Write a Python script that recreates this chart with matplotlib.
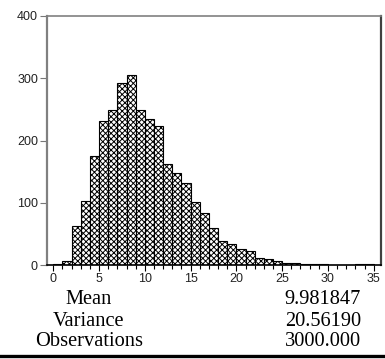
import numpy as np
import matplotlib.pyplot as plt

# histogram counts, bins of width 1 starting at 0
bin_left = np.arange(0, 35)
counts = [1, 6, 63, 103, 175, 231, 249, 293, 306, 249,
          234, 224, 163, 147, 131, 102, 83, 60, 38, 33,
          25, 22, 11, 9, 7, 3, 4, 1, 1, 1,
          0, 0, 0, 1, 1]
x_ticks = [0, 5, 10, 15, 20, 25, 30, 35]
y_ticks = [0, 100, 200, 300, 400]

stat_names = ['Mean', 'Variance', 'Observations']
stat_values = ['9.981847', '20.56190', '3000.000']

plt.rcParams['hatch.linewidth'] = 0.7

fig = plt.figure(figsize=(3.85, 3.59), dpi=100)
ax = fig.add_axes([47/385, 94/359, 334/385, 249/359])

ax.bar(bin_left, counts, width=1, align='edge', color='white',
       edgecolor='black', linewidth=0.8, hatch='xxxxxx')

ax.set_xlim(-0.69, 35.8)
ax.set_ylim(0, 400)
ax.set_xticks(x_ticks)
ax.set_xticks(np.arange(0, 36), minor=True)
ax.set_yticks(y_ticks)
ax.tick_params(axis='both', labelsize=9, colors='black', labelcolor='#222222')
ax.tick_params(axis='x', which='major', length=4, width=0.8, pad=2)
ax.tick_params(axis='x', which='minor', length=3, width=0.8)
ax.tick_params(axis='y', length=5, width=0.8, pad=1.5, color='#777777')
for lab in ax.get_xticklabels() + ax.get_yticklabels():
    lab.set_fontfamily('Liberation Sans')

ax.spines['left'].set_color('#808080')
ax.spines['left'].set_linewidth(1.6)
ax.spines['top'].set_color('#808080')
ax.spines['top'].set_linewidth(1.2)
ax.spines['right'].set_color('#404040')
ax.spines['right'].set_linewidth(1.6)
ax.spines['bottom'].set_color('black')
ax.spines['bottom'].set_linewidth(1.2)

# summary statistics below the plot
row_y = [304.5, 325.5, 346.5]
for name, val, yb in zip(stat_names, stat_values, row_y):
    fig.text(89/385, 1 - yb/359, name, ha='center', va='baseline',
             fontfamily='Liberation Serif', fontsize=14.7)
    fig.text(361/385, 1 - yb/359, val, ha='right', va='baseline',
             fontfamily='Liberation Serif', fontsize=14.7)

fig.add_artist(plt.Line2D([0, 1], [1 - 355.5/359, 1 - 355.5/359],
                          transform=fig.transFigure, color='black', linewidth=2.4))

fig.savefig('out.png', dpi=100)
